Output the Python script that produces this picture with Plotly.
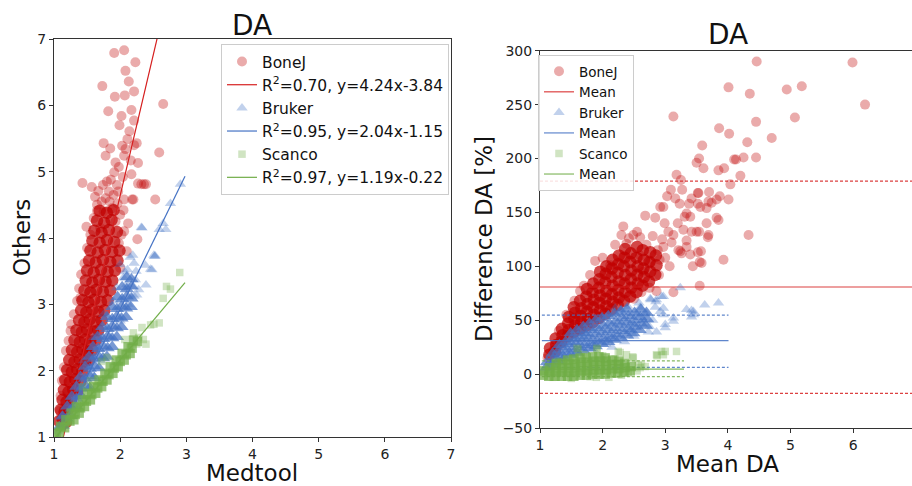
import plotly.graph_objects as go

# ======================= DATA =======================
SERIES = ["BoneJ", "Bruker", "Scanco"]

# ---- Left panel: Medtool (x) vs Others (y) ----
# dense central part of each cloud
BONEJ_LEFT_CORE = [
    (1.08,1.24),(1.13,1.27),(1.18,1.22),(1.10,1.41),(1.16,1.38),(1.22,1.43),
    (1.13,1.56),(1.19,1.53),(1.26,1.57),(1.15,1.71),(1.22,1.68),(1.29,1.72),(1.35,1.69),
    (1.17,1.86),(1.24,1.83),(1.32,1.87),(1.40,1.84),(1.20,2.01),(1.27,1.98),(1.35,2.02),(1.43,1.99),
    (1.23,2.16),(1.31,2.13),(1.39,2.17),(1.47,2.14),(1.53,2.16),
    (1.27,2.31),(1.35,2.28),(1.43,2.32),(1.51,2.29),(1.58,2.31),
    (1.31,2.46),(1.39,2.43),(1.47,2.47),(1.55,2.44),(1.63,2.46),
    (1.34,2.61),(1.42,2.58),(1.50,2.62),(1.59,2.59),(1.67,2.61),
    (1.38,2.76),(1.46,2.73),(1.54,2.77),(1.63,2.74),(1.72,2.76),
    (1.41,2.91),(1.49,2.88),(1.58,2.92),(1.67,2.89),(1.76,2.91),
    (1.43,3.06),(1.52,3.03),(1.61,3.07),(1.71,3.04),(1.81,3.06),
    (1.46,3.21),(1.55,3.18),(1.64,3.22),(1.74,3.19),(1.85,3.21),
    (1.48,3.36),(1.58,3.33),(1.68,3.37),(1.78,3.34),(1.88,3.36),
    (1.50,3.51),(1.60,3.48),(1.71,3.52),(1.81,3.49),(1.92,3.51),
    (1.53,3.66),(1.63,3.63),(1.74,3.67),(1.85,3.64),(1.96,3.66),
    (1.55,3.81),(1.66,3.78),(1.77,3.82),(1.88,3.79),(1.99,3.81),
    (1.58,3.96),(1.69,3.93),(1.80,3.97),(1.91,3.94),
    (1.61,4.11),(1.72,4.08),(1.83,4.12),(1.95,4.09),
    (1.65,4.26),(1.76,4.23),(1.87,4.27),(1.69,4.41),(1.80,4.38),(1.90,4.42),
]
BONEJ_LEFT_SPREAD = [
    (1.91,6.79),(2.06,6.83),(2.23,6.65),(2.08,6.52),(2.13,6.36),(1.73,6.29),(2.21,6.21),
    (2.07,6.15),(1.92,6.13),(2.65,6.02),(1.82,5.91),(2.17,5.93),(2.02,5.84),(2.21,5.77),
    (1.99,5.70),(2.14,5.61),(2.11,5.49),(1.75,5.43),(2.03,5.39),(2.25,5.43),(1.85,5.35),
    (1.78,5.24),(2.08,5.34),(2.21,5.40),(2.59,5.29),(2.06,5.24),(2.16,5.17),(1.93,5.14),
    (2.27,5.13),(1.98,5.07),(1.91,4.99),(2.17,4.96),(2.04,4.92),(1.43,4.83),(1.57,4.77),
    (1.74,4.80),(2.27,4.82),(2.36,4.81),(2.53,4.58),(2.20,4.58),(1.67,4.71),(2.26,3.98),
    (2.12,4.22),(2.05,4.42),(2.06,4.58),(1.49,4.17),(1.65,4.41),(2.39,4.81),(2.32,4.81),
    (2.18,4.58),(2.06,4.10),(1.65,4.50),(1.38,3.24),(1.80,4.85),(1.86,4.88),(1.95,4.80),
    (1.83,4.70),(1.90,4.65),(1.78,4.60),(1.72,4.55),(1.96,4.52),(1.88,4.45),(1.75,4.40),
    (2.00,4.35),(1.60,4.30),(1.93,4.25),(1.70,4.15),(1.55,4.05),(2.02,4.05),(1.98,3.92),
    (1.50,3.85),(1.46,3.62),(1.41,3.45),(2.00,3.55),(1.35,3.05),(1.30,2.85),(1.26,2.70),
    (1.22,2.45),(1.18,2.30),(1.15,2.05),(1.12,1.85),(1.10,1.62),(1.09,1.40),(1.25,2.60),
    (1.44,2.05),(1.50,2.30),(1.84,4.55),(1.97,4.70),(1.62,4.62),(2.10,3.80),(1.40,3.10),
]
BRUKER_LEFT_CORE = [
    (1.08,1.15),(1.13,1.17),(1.13,1.31),(1.19,1.28),(1.25,1.32),
    (1.20,1.46),(1.27,1.43),(1.33,1.47),(1.27,1.61),(1.34,1.58),(1.41,1.62),
    (1.34,1.76),(1.41,1.73),(1.48,1.77),(1.54,1.74),(1.40,1.91),(1.47,1.88),(1.54,1.92),(1.61,1.89),
    (1.47,2.06),(1.54,2.03),(1.61,2.07),(1.68,2.04),
    (1.53,2.21),(1.60,2.18),(1.67,2.22),(1.74,2.19),(1.80,2.21),
    (1.59,2.36),(1.67,2.33),(1.74,2.37),(1.81,2.34),(1.88,2.36),
    (1.66,2.51),(1.74,2.48),(1.81,2.52),(1.88,2.49),(1.95,2.51),
    (1.73,2.66),(1.81,2.63),(1.88,2.67),(1.95,2.64),(2.02,2.66),
    (1.80,2.81),(1.88,2.78),(1.95,2.82),(2.02,2.79),(2.09,2.81),
    (1.88,2.96),(1.95,2.93),(2.02,2.97),(2.09,2.94),(2.16,2.96),
    (1.96,3.11),(2.03,3.08),(2.10,3.12),(2.17,3.09),
    (2.03,3.26),(2.10,3.23),(2.17,3.27),(2.10,3.41),(2.17,3.38),
]
BRUKER_LEFT_SPREAD = [
    (2.91,4.81),(2.76,4.52),(2.69,4.13),(2.59,4.13),(2.32,4.16),(2.52,3.72),(2.46,3.53),
    (2.39,3.29),(2.21,3.62),(2.23,3.37),(2.11,3.52),(2.15,3.71),(2.28,3.22),(2.21,3.12),
    (2.65,4.22),(2.53,3.73),(2.19,3.74),(2.51,3.74),(2.38,3.59),(2.48,3.52),(2.20,3.27),
    (2.25,3.14),(2.07,3.49),(2.33,4.15),(1.05,1.08),(1.12,1.32),(1.30,1.45),(1.40,1.62),
    (1.58,1.95),(1.70,2.15),(1.85,2.50),(2.00,2.75),(2.12,3.00),(1.45,2.15),(1.60,2.50),
    (1.75,2.85),(1.95,3.25),(2.05,3.40),(2.10,3.30),(2.00,3.60),(1.90,3.05),(2.24,3.50),
]
SCANCO_LEFT_CORE = [
    (1.03,1.05),(1.08,1.07),(1.10,1.16),(1.16,1.14),
    (1.18,1.26),(1.24,1.24),(1.30,1.26),(1.26,1.36),(1.32,1.34),(1.38,1.36),
    (1.34,1.46),(1.40,1.44),(1.46,1.46),(1.43,1.56),(1.49,1.54),(1.55,1.56),
    (1.51,1.66),(1.57,1.64),(1.63,1.66),(1.60,1.76),(1.66,1.74),(1.72,1.76),
    (1.68,1.86),(1.74,1.84),(1.80,1.86),(1.77,1.96),(1.83,1.94),(1.89,1.96),
    (1.85,2.06),(1.91,2.04),(1.97,2.06),(1.94,2.16),(2.00,2.14),(2.06,2.16),
    (2.03,2.26),(2.09,2.24),(2.15,2.26),(2.12,2.36),(2.18,2.34),(2.20,2.46),(2.26,2.44),
]
SCANCO_LEFT_SPREAD = [
    (2.90,3.48),(2.70,3.27),(2.76,3.23),(2.65,3.09),(2.59,2.72),(2.51,2.70),(2.46,2.69),
    (2.33,2.65),(2.20,2.57),(2.35,2.47),(2.39,2.40),(2.07,2.47),(1.43,1.76),(1.72,2.14),
    (2.28,2.50),(2.25,2.40),(2.15,2.35),(1.55,1.85),(1.30,1.40),(1.95,2.05),(1.80,2.20),
]
# least-squares fits printed in the legend
FIT_SLOPE = [4.24, 2.04, 1.19]
FIT_INTERCEPT = [-3.84, -1.15, -0.22]
FIT_R2 = [0.70, 0.95, 0.97]
FIT_X_SPAN = [(1.05, 2.98), (1.05, 2.98), (1.02, 2.98)]

# ---- Right panel: Bland-Altman, mean DA (x) vs difference [%] (y) ----
BONEJ_RIGHT_CORE = [
    (1.15,18),(1.16,24),(1.24,21),(1.26,27),(1.25,33),(1.34,30),(1.36,36),(1.35,42),
    (1.44,35),(1.46,41),(1.45,47),(1.46,53),(1.54,39),(1.56,45),(1.55,51),(1.56,57),(1.54,62),
    (1.64,42),(1.66,48),(1.65,54),(1.66,61),(1.64,68),
    (1.74,45),(1.76,51),(1.75,58),(1.76,65),(1.74,72),(1.75,79),
    (1.84,48),(1.86,55),(1.85,62),(1.86,69),(1.84,76),(1.85,84),
    (1.94,52),(1.96,59),(1.95,66),(1.96,73),(1.94,80),(1.95,88),(1.96,95),
    (2.04,56),(2.06,63),(2.05,70),(2.06,77),(2.04,85),(2.05,93),(2.06,100),
    (2.14,60),(2.16,67),(2.15,74),(2.16,82),(2.14,90),(2.15,98),(2.16,106),
    (2.24,64),(2.26,71),(2.25,78),(2.26,86),(2.24,94),(2.25,102),(2.26,110),
    (2.34,68),(2.36,76),(2.35,84),(2.36,92),(2.34,100),(2.35,108),(2.36,116),
    (2.44,72),(2.46,80),(2.45,88),(2.46,96),(2.44,104),(2.45,112),
    (2.54,76),(2.56,84),(2.55,92),(2.56,100),(2.54,108),(2.55,118),
    (2.64,82),(2.66,90),(2.65,98),(2.66,106),(2.64,115),
    (2.74,86),(2.76,95),(2.75,104),(2.76,113),(2.84,92),(2.86,101),(2.85,110),
]
BONEJ_RIGHT_SPREAD = [
    (4.46,290),(5.99,289),(4.01,266),(4.35,260),(4.94,264),(5.18,267),(6.19,250),(3.13,239),
    (5.07,238),(4.45,234),(3.86,228),(4.02,223),(4.70,219),(3.59,212),(4.31,215),(3.54,200),
    (4.45,201),(4.25,201),(4.10,199),(4.13,199),(3.50,196),(3.61,191),(3.85,189),(3.94,191),
    (4.20,184),(3.18,185),(3.25,180),(4.04,176),(3.27,171),(3.09,171),(3.03,165),(3.52,168),
    (3.70,169),(3.87,165),(4.01,162),(3.42,163),(3.38,158),(3.52,158),(3.74,159),(3.82,162),
    (2.92,155),(4.33,129),(2.33,137),(2.30,129),(3.82,145),(3.85,143),(3.56,155),(3.66,154),
    (3.69,160),(3.40,146),(3.31,146),(3.34,149),(3.23,158),(3.16,163),(3.53,168),(3.13,129),
    (3.68,127),(3.54,132),(3.42,132),(3.93,106),(3.57,114),(3.55,104),(3.40,111),(3.24,114),
    (3.55,82),(3.13,76),(2.86,77),(2.68,147),(2.84,145),(2.97,155),(2.49,129),(2.60,127),
    (2.38,121),(1.88,105),(1.64,77),(2.12,101),(3.66,140),(3.69,129),(3.50,132),(3.29,134),
    (3.34,124),(3.05,132),(3.21,115),(3.26,112),(2.97,118),(3.07,100),(2.91,106),(2.76,104),
    (2.65,95),(3.34,118),(3.52,113),(3.44,100),(3.58,103),(1.21,22),(1.32,27),(1.12,15),
    (1.30,40),(1.42,55),(1.55,68),(1.70,82),(1.80,92),(2.00,108),(2.20,120),(2.50,70),
    (2.62,76),(2.75,80),(2.90,92),(3.00,108),(2.95,125),(2.80,128),(2.55,132),(2.42,126),
    (2.70,120),(2.88,115),(3.10,122),(3.20,140),(2.99,140),(2.60,110),
]
BRUKER_RIGHT_CORE = [
    (1.10,6),(1.11,11),(1.19,9),(1.21,14),(1.20,19),(1.29,12),(1.31,17),(1.30,22),(1.31,27),
    (1.39,15),(1.41,20),(1.40,25),(1.41,30),(1.49,18),(1.51,23),(1.50,28),(1.51,33),(1.49,38),
    (1.59,20),(1.61,25),(1.60,30),(1.61,35),(1.59,41),(1.69,22),(1.71,27),(1.70,33),(1.71,38),(1.69,44),
    (1.79,24),(1.81,29),(1.80,35),(1.81,41),(1.79,47),(1.89,26),(1.91,31),(1.90,37),(1.91,43),(1.89,50),
    (1.99,28),(2.01,33),(2.00,39),(2.01,45),(1.99,52),(2.09,30),(2.11,35),(2.10,41),(2.11,47),(2.09,54),
    (2.19,32),(2.21,37),(2.20,43),(2.21,49),(2.19,56),(2.29,34),(2.31,40),(2.30,46),(2.31,52),(2.29,58),
    (2.39,36),(2.41,42),(2.40,48),(2.41,54),(2.39,60),(2.49,38),(2.51,44),(2.50,50),(2.51,57),
    (2.59,41),(2.61,47),(2.60,53),(2.61,60),(2.69,45),(2.71,51),(2.70,57),
]
BRUKER_RIGHT_SPREAD = [
    (3.34,60),(3.45,55),(3.42,59),(3.13,49),(3.00,46),(2.86,39),(2.73,39),(3.63,64),(3.85,66),
    (2.97,61),(3.24,80),(2.97,72),(2.76,70),(2.85,67),(3.45,58),(3.13,52),(2.97,55),(2.84,62),
    (2.70,56),(2.94,72),(2.86,69),(2.77,69),(3.42,53),(3.00,43),(2.49,46),(2.92,58),(1.72,38),
    (2.15,25),(2.60,62),(2.55,55),(2.65,50),(2.40,63),(2.30,60),(2.50,35),(2.35,30),(2.05,28),
    (1.85,23),(2.80,50),(2.75,44),(2.58,66),(2.45,40),(1.15,5),(1.35,13),(1.55,17),(2.20,61),
]
SCANCO_RIGHT_CORE = [
    (1.05,-1),(1.06,3),(1.14,-2),(1.16,2),(1.15,6),(1.24,-2),(1.26,2),(1.25,6),(1.26,10),
    (1.34,-2),(1.36,2),(1.35,6),(1.36,10),(1.44,-2),(1.46,2),(1.45,6),(1.46,10),(1.44,13),
    (1.54,-2),(1.56,2),(1.55,6),(1.56,10),(1.54,14),(1.64,-1),(1.66,3),(1.65,7),(1.66,11),(1.64,15),
    (1.74,-1),(1.76,3),(1.75,7),(1.76,11),(1.74,15),(1.84,0),(1.86,4),(1.85,8),(1.86,12),(1.84,16),
    (1.94,0),(1.96,4),(1.95,8),(1.96,12),(1.94,16),(2.04,0),(2.06,4),(2.05,8),(2.06,12),(2.04,15),
    (2.14,1),(2.16,5),(2.15,9),(2.16,13),(2.24,1),(2.26,5),(2.25,9),(2.26,12),
    (2.34,2),(2.36,6),(2.35,10),(2.44,3),(2.46,7),
]
SCANCO_RIGHT_SPREAD = [
    (3.18,21),(3.00,21),(2.97,18),(2.86,18),(2.68,7),(2.62,8),(2.38,18),(2.25,21),(2.49,15),
    (1.91,23),(1.61,23),(2.94,21),(2.87,17),(2.57,9),(2.48,16),(2.28,20),(1.91,24),(1.59,24),
    (2.41,1),(2.55,3),(2.60,6),(2.30,-1),(1.90,-3),(1.50,-4),(1.20,-3),(2.20,14),(2.00,17),
    (1.80,-2.4),(2.10,-3),(1.70,18),(1.30,12),
]
# Bland-Altman reference lines: mean difference and limits of agreement
BA_MEAN = [80.8, 31.0, 4.7]
BA_UPPER = [179.1, 54.8, 12.2]
BA_LOWER = [-17.8, 6.3, -2.4]
BA_X_SPAN = [(1.0, 7.0), (1.03, 4.01), (1.03, 3.30)]

# ======================= STYLE =======================
COLORS = ["#C00000", "#4472C4", "#70AD47"]
LINE_COLORS = ["#D62020", "#4472C4", "#70AD47"]
SYMBOLS = ["circle", "triangle-up", "square"]
SIZES = [10, 10, 7.5]
CORE_SIZES = [12.5, 12.5, 9.5]
FONT = "DejaVu Sans"
W, H = 912, 486

core_left = [BONEJ_LEFT_CORE, BRUKER_LEFT_CORE, SCANCO_LEFT_CORE]
spread_left = [BONEJ_LEFT_SPREAD, BRUKER_LEFT_SPREAD, SCANCO_LEFT_SPREAD]
core_right = [BONEJ_RIGHT_CORE, BRUKER_RIGHT_CORE, SCANCO_RIGHT_CORE]
spread_right = [BONEJ_RIGHT_SPREAD, BRUKER_RIGHT_SPREAD, SCANCO_RIGHT_SPREAD]

fig = go.Figure()

def xs(pts):
    return [p[0] for p in pts]

def ys(pts):
    return [p[1] for p in pts]

def marker(i, alpha, size):
    return dict(color=COLORS[i], symbol=SYMBOLS[i], size=size, opacity=alpha,
                line=dict(width=0))

for i, name in enumerate(SERIES):
    fig.add_trace(go.Scatter(x=xs(core_left[i]), y=ys(core_left[i]), mode="markers",
                             marker=marker(i, 0.72, CORE_SIZES[i]), showlegend=False,
                             hoverinfo="skip", xaxis="x", yaxis="y"))
    fig.add_trace(go.Scatter(x=xs(spread_left[i]), y=ys(spread_left[i]), mode="markers",
                             marker=marker(i, 0.33, SIZES[i]), name=name, legend="legend",
                             xaxis="x", yaxis="y"))
    x0, x1 = FIT_X_SPAN[i]
    fig.add_trace(go.Scatter(
        x=[x0, x1], y=[FIT_SLOPE[i] * x0 + FIT_INTERCEPT[i], FIT_SLOPE[i] * x1 + FIT_INTERCEPT[i]],
        mode="lines", line=dict(color=LINE_COLORS[i], width=1.2), legend="legend",
        name="R<sup>2</sup>=%.2f, y=%.2fx-%.2f" % (FIT_R2[i], FIT_SLOPE[i], -FIT_INTERCEPT[i]),
        xaxis="x", yaxis="y"))

for i, name in enumerate(SERIES):
    fig.add_trace(go.Scatter(x=xs(core_right[i]), y=ys(core_right[i]), mode="markers",
                             marker=marker(i, 0.72, CORE_SIZES[i]), showlegend=False,
                             hoverinfo="skip", xaxis="x2", yaxis="y2"))
    fig.add_trace(go.Scatter(x=xs(spread_right[i]), y=ys(spread_right[i]), mode="markers",
                             marker=marker(i, 0.33, SIZES[i]), name=name, legend="legend2",
                             xaxis="x2", yaxis="y2"))
    x0, x1 = BA_X_SPAN[i]
    fig.add_trace(go.Scatter(x=[x0, x1], y=[BA_MEAN[i]] * 2, mode="lines", name="Mean",
                             line=dict(color=LINE_COLORS[i], width=1.2), legend="legend2",
                             opacity=0.85, xaxis="x2", yaxis="y2"))
    for v in (BA_UPPER[i], BA_LOWER[i]):
        fig.add_trace(go.Scatter(x=[x0, x1], y=[v, v], mode="lines", showlegend=False,
                                 line=dict(color=LINE_COLORS[i], width=1.2, dash="3px,2px"),
                                 opacity=0.85, hoverinfo="skip", xaxis="x2", yaxis="y2"))

axis_common = dict(ticks="outside", ticklen=4, tickcolor="#333", showline=True,
                   linecolor="#333", linewidth=1, showgrid=False, zeroline=False,
                   automargin=False,
                   tickfont=dict(size=14, color="#222", family=FONT))

fig.update_layout(
    template="none",
    width=W, height=H, autosize=False, margin=dict(l=0, r=0, t=0, b=0, pad=0),
    paper_bgcolor="white", plot_bgcolor="white",
    font=dict(family=FONT, color="#111"),
    xaxis=dict(domain=[54 / W, 451 / W], range=[1, 7], tickvals=[1, 2, 3, 4, 5, 6, 7],
               mirror=True, anchor="y", **axis_common),
    yaxis=dict(domain=[1 - 437 / H, 1 - 39 / H], range=[1, 7], tickvals=[1, 2, 3, 4, 5, 6, 7],
               mirror=True, anchor="x", **axis_common),
    xaxis2=dict(domain=[540 / W, 1.0], range=[1, 6.94], tickvals=[1, 2, 3, 4, 5, 6],
                mirror=True, anchor="y2", **axis_common),
    yaxis2=dict(domain=[1 - 428 / H, 1 - 50.7 / H], range=[-50, 300],
                tickvals=[-50, 0, 50, 100, 150, 200, 250, 300],
                mirror=False, anchor="x2", **axis_common),
    legend=dict(x=221 / W, y=1 - 44 / H, xanchor="left", yanchor="top",
                bordercolor="#cccccc", borderwidth=1, bgcolor="rgba(255,255,255,0.85)",
                font=dict(size=15.5, family=FONT, color="#111"), itemwidth=30, tracegroupgap=0),
    legend2=dict(x=538 / W, y=1 - 55 / H, xanchor="left", yanchor="top",
                 bordercolor="#cccccc", borderwidth=1, bgcolor="rgba(255,255,255,0.85)",
                 font=dict(size=13.5, family=FONT, color="#111"), itemwidth=30, tracegroupgap=0),
    showlegend=True,
)

def label(text, xp, yp, size, angle=0):
    fig.add_annotation(text=text, x=xp / W, y=1 - yp / H, xref="paper", yref="paper",
                       showarrow=False, xanchor="center", yanchor="middle", textangle=angle,
                       font=dict(size=size, family=FONT, color="#111"))

label("DA", 252, 26, 28)
label("DA", 728, 35, 28)
label("Medtool", 252, 473, 23)
label("Mean DA", 727, 464, 23)
label("Others", 22, 238, 23, angle=-90)
label("Difference DA [%]", 484, 239, 23, angle=-90)

fig.write_html("out.html",
               post_script="document.body.style.margin='0';document.body.style.padding='0';"
                           "document.documentElement.style.overflow='hidden';")
